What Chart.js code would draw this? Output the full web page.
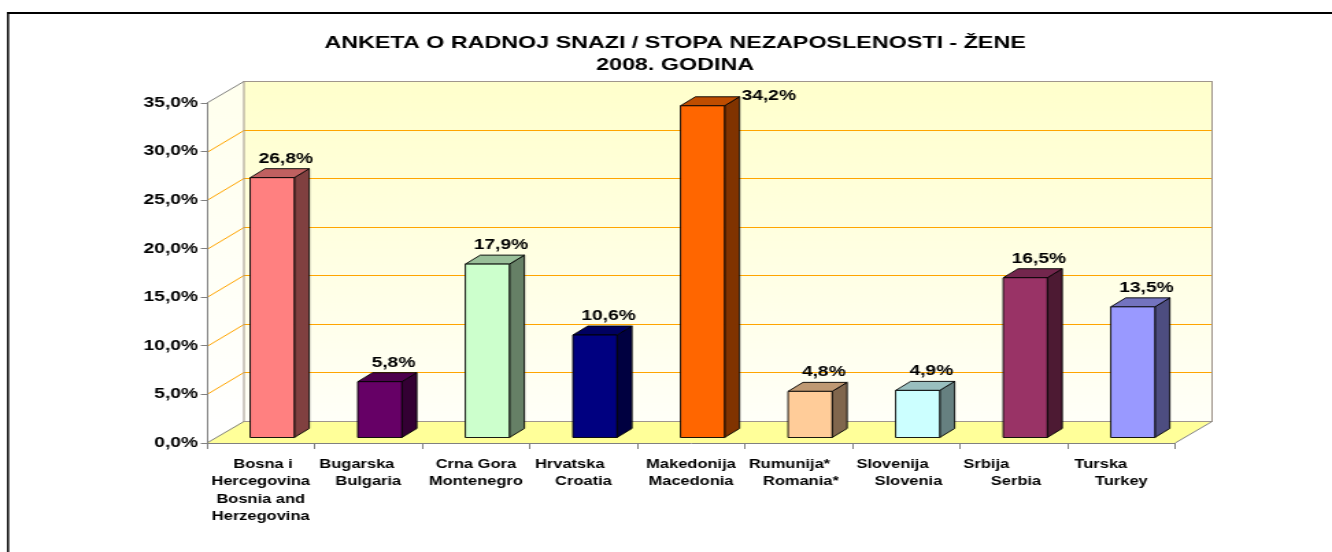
<!DOCTYPE html>
<html>
<head>
<meta charset="utf-8">
<title>Anketa o radnoj snazi - stopa nezaposlenosti - žene, 2008.</title>
<script src="https://cdn.jsdelivr.net/npm/chart.js@4.4.1/dist/chart.umd.min.js"></script>
<style>
  html, body { margin: 0; padding: 0; background: #fff; overflow: hidden; }
  /* the sheet is printed wide: everything is stretched horizontally */
  #wrap { width: 972px; height: 552px; transform: scaleX(1.37037); transform-origin: 0 0; }
  canvas { display: block; }
</style>
</head>
<body>
<div id="wrap"><canvas id="chart" width="972" height="552"></canvas></div>
<script>
const categories = [
  ['Bosna i', 'Hercegovina', 'Bosnia and', 'Herzegovina'],
  ['Bugarska', 'Bulgaria'],
  ['Crna Gora', 'Montenegro'],
  ['Hrvatska', 'Croatia'],
  ['Makedonija', 'Macedonia'],
  ['Rumunija*', 'Romania*'],
  ['Slovenija', 'Slovenia'],
  ['Srbija', 'Serbia'],
  ['Turska', 'Turkey']
];
const values = [26.8, 5.8, 17.9, 10.6, 34.2, 4.8, 4.9, 16.5, 13.5];
const barColors = ['#FF8080', '#660066', '#CCFFCC', '#000080', '#FF6600',
                   '#FFCC99', '#CCFFFF', '#993366', '#9999FF'];
const yMax = 35;
const yStep = 5;
const titleLines = ['ANKETA O RADNOJ SNAZI / STOPA NEZAPOSLENOSTI - ŽENE', '2008. GODINA'];

// spaces added after (+) or before (-) a label line, the way the sheet had them typed
const lineNudge = {
  'Bosna i': -1, 'Bugarska': 5, 'Hrvatska': 6, 'Rumunija*': 4, 'Romania*': -1,
  'Slovenija': 6, 'Slovenia': -1, 'Srbija': 12, 'Serbia': -1, 'Turska': 9
};

const FONT = "'Liberation Sans', Arial, Helvetica, sans-serif";
Chart.defaults.font.family = FONT;

const AXIS_LEFT = 151;        // x of the value axis
const TITLE_LEFT = 127.7;     // title is centred over the whole framed box
const DX = 27, DY = -22;      // depth of the walls / floor
const BX = 8.4, BY = -5;      // bars stand a little behind the front edge
const BDX = 10.9, BDY = -9;   // depth of each bar
const AXIS = '#808080';
const WALL_EDGE = '#A0968C';
const GRID = '#FFA500';

const pct = v => v.toFixed(1).replace('.', ',') + '%';

function shade(hex, f) {
  const n = parseInt(hex.slice(1), 16);
  const r = Math.round(((n >> 16) & 255) * f);
  const g = Math.round(((n >> 8) & 255) * f);
  const b = Math.round((n & 255) * f);
  return `rgb(${r},${g},${b})`;
}

function poly(ctx, pts) {
  ctx.beginPath();
  ctx.moveTo(pts[0][0], pts[0][1]);
  for (let i = 1; i < pts.length; i++) ctx.lineTo(pts[i][0], pts[i][1]);
  ctx.closePath();
}

function line(ctx, pts) {
  ctx.beginPath();
  ctx.moveTo(pts[0][0], pts[0][1]);
  for (let i = 1; i < pts.length; i++) ctx.lineTo(pts[i][0], pts[i][1]);
  ctx.stroke();
}

const box3d = {
  id: 'box3d',
  afterLayout(chart) {
    if (chart.titleBlock) chart.titleBlock.left = TITLE_LEFT;
  },
  beforeDraw(chart) {
    const {ctx} = chart;
    const {left: L, right: R, top: T, bottom: B} = chart.chartArea;
    const ys = chart.scales.y;
    ctx.save();

    // page frame
    ctx.fillStyle = '#000';
    ctx.fillRect(5.1, 12, chart.width, 2);
    ctx.fillRect(5.1, 12, 1.5, chart.height);

    // back wall
    const g = ctx.createLinearGradient(0, T + DY, 0, B + DY);
    g.addColorStop(0, '#FFFFCC');
    g.addColorStop(1, '#FFFFF8');
    ctx.fillStyle = g;
    ctx.fillRect(L + DX, T + DY, R - L, B - T);

    // side wall
    const g2 = ctx.createLinearGradient(0, T, 0, B);
    g2.addColorStop(0, '#FFFFEE');
    g2.addColorStop(1, '#FFFFFF');
    ctx.fillStyle = g2;
    poly(ctx, [[L, T], [L + DX, T + DY], [L + DX, B + DY], [L, B]]);
    ctx.fill();

    // floor
    ctx.fillStyle = '#FFFF99';
    poly(ctx, [[L, B], [R, B], [R + DX, B + DY], [L + DX, B + DY]]);
    ctx.fill();

    // gridlines running across the side wall and the back wall
    ctx.lineWidth = 1;
    ctx.strokeStyle = GRID;
    ys.ticks.forEach(t => {
      if (t.value <= 0 || t.value >= yMax) return;
      const py = Math.round(ys.getPixelForValue(t.value)) + 0.5;
      line(ctx, [[L, py], [L + DX, py + DY], [R + DX, py + DY]]);
    });

    // wall and floor edges
    ctx.strokeStyle = WALL_EDGE;
    const t0 = Math.round(T + DY) + 0.5, b0 = Math.round(B + DY) + 0.5;
    ctx.strokeRect(L + DX, t0, R - L, b0 - t0);
    ctx.strokeStyle = AXIS;
    line(ctx, [[L, T], [L + DX, t0]]);
    line(ctx, [[L, B], [L + DX, b0]]);
    line(ctx, [[R, B], [R + DX, b0]]);
    ctx.restore();
  },
  beforeDatasetsDraw(chart) {
    const {ctx} = chart;
    const meta = chart.getDatasetMeta(0);
    const ds = chart.data.datasets[0];
    const wallTop = chart.chartArea.top + DY;
    ctx.save();
    ctx.lineWidth = 0.9;
    ctx.strokeStyle = '#000';
    ctx.lineJoin = 'round';
    meta.data.forEach((bar, i) => {
      const {x, y, base, width} = bar.getProps(['x', 'y', 'base', 'width'], true);
      const x0 = x - width / 2 + BX, x1 = x + width / 2 + BX;
      const yt = y + BY, yb = base + BY;
      const c = ds.backgroundColor[i];

      // right side
      ctx.fillStyle = shade(c, 0.5);
      poly(ctx, [[x1, yt], [x1 + BDX, yt + BDY], [x1 + BDX, yb + BDY], [x1, yb]]);
      ctx.fill(); ctx.stroke();
      // top
      ctx.fillStyle = shade(c, 0.75);
      poly(ctx, [[x0, yt], [x0 + BDX, yt + BDY], [x1 + BDX, yt + BDY], [x1, yt]]);
      ctx.fill(); ctx.stroke();
      // front
      ctx.fillStyle = c;
      poly(ctx, [[x0, yt], [x1, yt], [x1, yb], [x0, yb]]);
      ctx.fill(); ctx.stroke();

      // value label; moved beside the bar when it would run past the wall
      ctx.fillStyle = '#000';
      ctx.font = `bold 14px ${FONT}`;
      ctx.textBaseline = 'middle';
      const label = pct(ds.data[i]);
      const cy = yt - 19;
      if (cy - 8 < wallTop) {
        ctx.textAlign = 'left';
        ctx.fillText(label, x1 + BDX + 1.5, yt - 10);
      } else {
        ctx.textAlign = 'center';
        ctx.fillText(label, (x0 + x1) / 2 + 10, cy);
      }
    });
    ctx.restore();
    return false;
  }
};

new Chart(document.getElementById('chart'), {
  type: 'bar',
  data: {
    labels: categories,
    datasets: [{
      data: values,
      backgroundColor: barColors,
      barPercentage: 0.41,
      categoryPercentage: 1
    }]
  },
  options: {
    responsive: false,
    animation: false,
    events: [],
    layout: {padding: {left: 0, right: 114.5, top: 0, bottom: 0}},
    plugins: {
      legend: {display: false},
      tooltip: {enabled: false},
      title: {
        display: true,
        text: titleLines,
        color: '#000',
        font: {size: 17, weight: 'bold', lineHeight: 22 / 17},
        padding: {top: 32, bottom: 27}
      }
    },
    scales: {
      x: {
        offset: true,
        grid: {offset: true, drawOnChartArea: false, drawTicks: true, tickLength: 6, color: AXIS},
        border: {display: true, color: AXIS},
        ticks: {
          color: '#000',
          font: {size: 12, weight: 'bold', lineHeight: 1.46},
          padding: 6.5,
          maxRotation: 0,
          autoSkip: false,
          callback(value, index) {
            return categories[index].map(s => {
              const n = lineNudge[s] || 0;
              return n > 0 ? s + ' '.repeat(n) : ' '.repeat(-n) + s;
            });
          }
        },
        afterFit(scale) { scale.height = 109; }
      },
      y: {
        min: 0,
        max: yMax,
        grid: {drawOnChartArea: false, drawTicks: true, tickLength: 4.5, color: AXIS},
        border: {display: true, color: AXIS},
        ticks: {
          stepSize: yStep,
          color: '#000',
          padding: 2,
          font: {size: 14, weight: 'bold'},
          callback: v => pct(v)
        },
        afterFit(scale) { scale.width = AXIS_LEFT; }
      }
    }
  },
  plugins: [box3d]
});
</script>
</body>
</html>
